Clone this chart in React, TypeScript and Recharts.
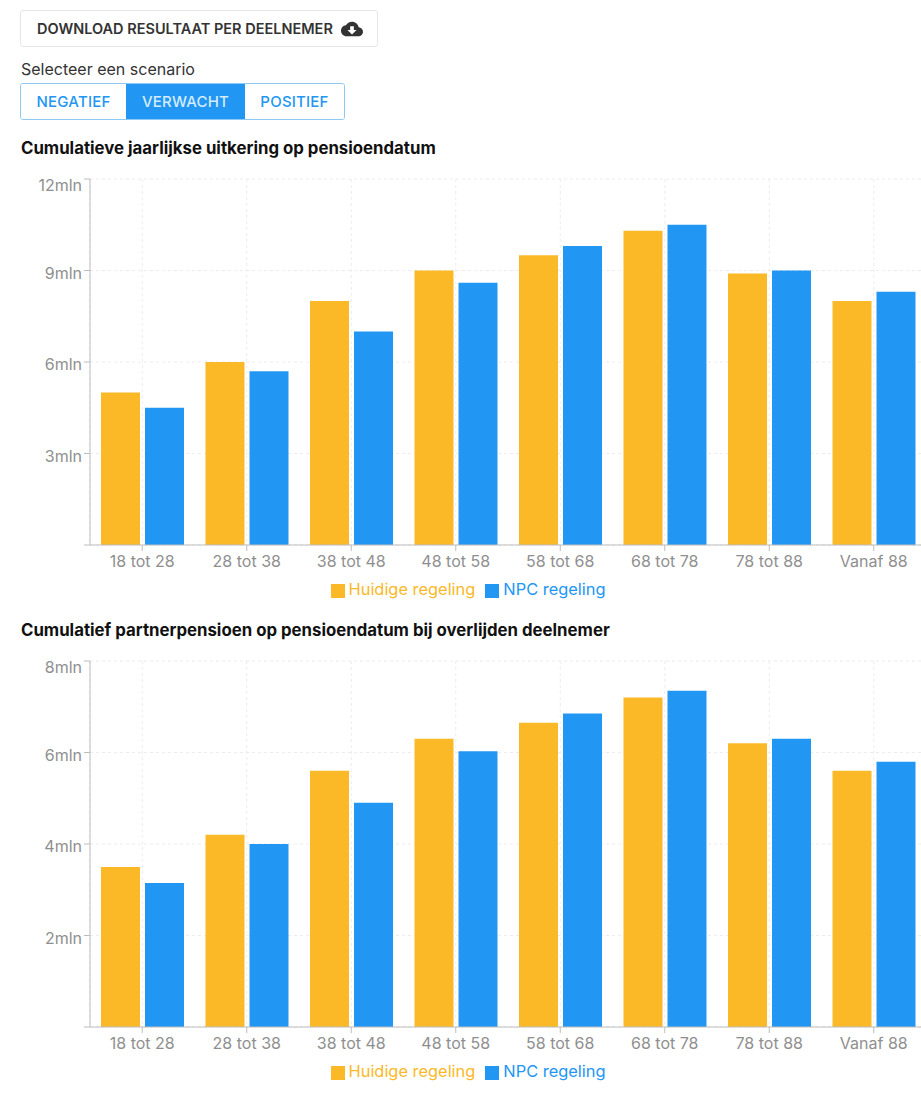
import { Bar, BarChart, CartesianGrid, Legend, XAxis, YAxis } from "recharts";

const categories = ["18 tot 28", "28 tot 38", "38 tot 48", "48 tot 58", "58 tot 68", "68 tot 78", "78 tot 88", "Vanaf 88"];

const uitkeringHuidig = [5, 6, 8, 9, 9.5, 10.3, 8.9, 8];
const uitkeringNpc = [4.5, 5.7, 7, 8.6, 9.8, 10.5, 9, 8.3];
const uitkeringTicks = [0, 3, 6, 9, 12];

const partnerHuidig = [3.5, 4.2, 5.6, 6.3, 6.65, 7.2, 6.2, 5.6];
const partnerNpc = [3.15, 4, 4.9, 6.03, 6.85, 7.35, 6.3, 5.8];
const partnerTicks = [0, 2, 4, 6, 8];

const scenarios = ["NEGATIEF", "VERWACHT", "POSITIEF"];
const scenarioWidths = [106, 119, 100];

const font = "Inter, sans-serif";
const yellow = "#fbb827";
const blue = "#2196f3";
const tickColor = "#8f8f8f";

// top label sits a bit below its tick, zero has no label
function YTick({ x, y, payload, max }: any) {
  if (payload.value === 0) return null;
  return (
    <text
      x={x}
      y={y}
      dy={payload.value === max ? 6 : 2}
      textAnchor="end"
      dominantBaseline="central"
      fill={tickColor}
      fontSize={16}
      fontFamily={font}
    >
      {`${payload.value}mln`}
    </text>
  );
}

function PensionChart({ huidig, npc, ticks, top }: { huidig: number[]; npc: number[]; ticks: number[]; top: number }) {
  const data = categories.map((name, i) => ({ name, huidig: huidig[i], npc: npc[i] }));
  const max = ticks[ticks.length - 1];
  return (
    <div style={{ position: "absolute", left: 0, top }}>
      <BarChart
        width={926}
        height={439}
        data={data}
        margin={{ top: 9, right: 0, bottom: 0, left: 0 }}
        barSize={39}
        barGap={5}
      >
        <CartesianGrid strokeDasharray="3 3" stroke="#ececec" />
        <XAxis
          dataKey="name"
          height={30}
          stroke="#bdbdbd"
          tick={{ fill: tickColor, fontSize: 16, fontFamily: font, dy: 3 }}
          interval={0}
        />
        <YAxis
          width={90}
          domain={[0, max]}
          ticks={ticks}
          stroke="#bdbdbd"
          tick={<YTick max={max} />}
        />
        <Legend
          height={30}
          iconType="square"
          iconSize={14}
          wrapperStyle={{ fontSize: 16.4, fontFamily: font, paddingLeft: 10, paddingTop: 4 }}
        />
        <Bar dataKey="huidig" name="Huidige regeling" fill={yellow} isAnimationActive={false} />
        <Bar dataKey="npc" name="NPC regeling" fill={blue} isAnimationActive={false} />
      </BarChart>
    </div>
  );
}

function Title({ top, children }: { top: number; children: string }) {
  return (
    <div style={{ position: "absolute", left: 21, top, fontSize: 16.8, fontWeight: 700, lineHeight: "16px", color: "#111", whiteSpace: "nowrap" }}>
      {children}
    </div>
  );
}

export default function App() {
  return (
    <div style={{ position: "absolute", left: 0, top: 0, width: 921, height: 1094, overflow: "hidden", background: "#fff", fontFamily: font }}>
      <div
        style={{
          position: "absolute",
          left: 20,
          top: 10,
          width: 358,
          height: 37,
          boxSizing: "border-box",
          border: "1px solid #e6e6e6",
          borderRadius: 3,
          display: "flex",
          alignItems: "center",
          paddingLeft: 16,
          fontSize: 14.5,
          fontWeight: 600,
          color: "#333",
          whiteSpace: "nowrap",
        }}
      >
        DOWNLOAD RESULTAAT PER DEELNEMER
        <svg width="22" height="22" viewBox="0 0 24 24" style={{ marginLeft: 8 }}>
          <path
            fill="#333"
            d="M19.35 10.04C18.67 6.59 15.64 4 12 4 9.11 4 6.6 5.64 5.35 8.04 2.34 8.36 0 10.91 0 14c0 3.31 2.69 6 6 6h13c2.76 0 5-2.24 5-5 0-2.64-2.05-4.78-4.65-4.96zM17 13l-5 5-5-5h3V9h4v4h3z"
          />
        </svg>
      </div>

      <div style={{ position: "absolute", left: 21, top: 61, fontSize: 16, lineHeight: "16px", color: "#333", whiteSpace: "nowrap" }}>
        Selecteer een scenario
      </div>

      <div
        style={{
          position: "absolute",
          left: 20,
          top: 83,
          height: 37,
          boxSizing: "border-box",
          display: "flex",
          border: "1px solid #8ec8f5",
          borderRadius: 3,
          overflow: "hidden",
        }}
      >
        {scenarios.map((s, i) => (
          <div
            key={s}
            style={{
              width: scenarioWidths[i] - (i === 1 ? 0 : 1),
              display: "flex",
              alignItems: "center",
              justifyContent: "center",
              fontSize: 15,
              fontWeight: 500,
              letterSpacing: 0.2,
              color: i === 1 ? "#d5ecfd" : blue,
              background: i === 1 ? blue : "#fff",
            }}
          >
            {s}
          </div>
        ))}
      </div>

      <Title top={140}>Cumulatieve jaarlijkse uitkering op pensioendatum</Title>
      <PensionChart huidig={uitkeringHuidig} npc={uitkeringNpc} ticks={uitkeringTicks} top={170} />

      <Title top={622}>Cumulatief partnerpensioen op pensioendatum bij overlijden deelnemer</Title>
      <PensionChart huidig={partnerHuidig} npc={partnerNpc} ticks={partnerTicks} top={652} />
    </div>
  );
}
